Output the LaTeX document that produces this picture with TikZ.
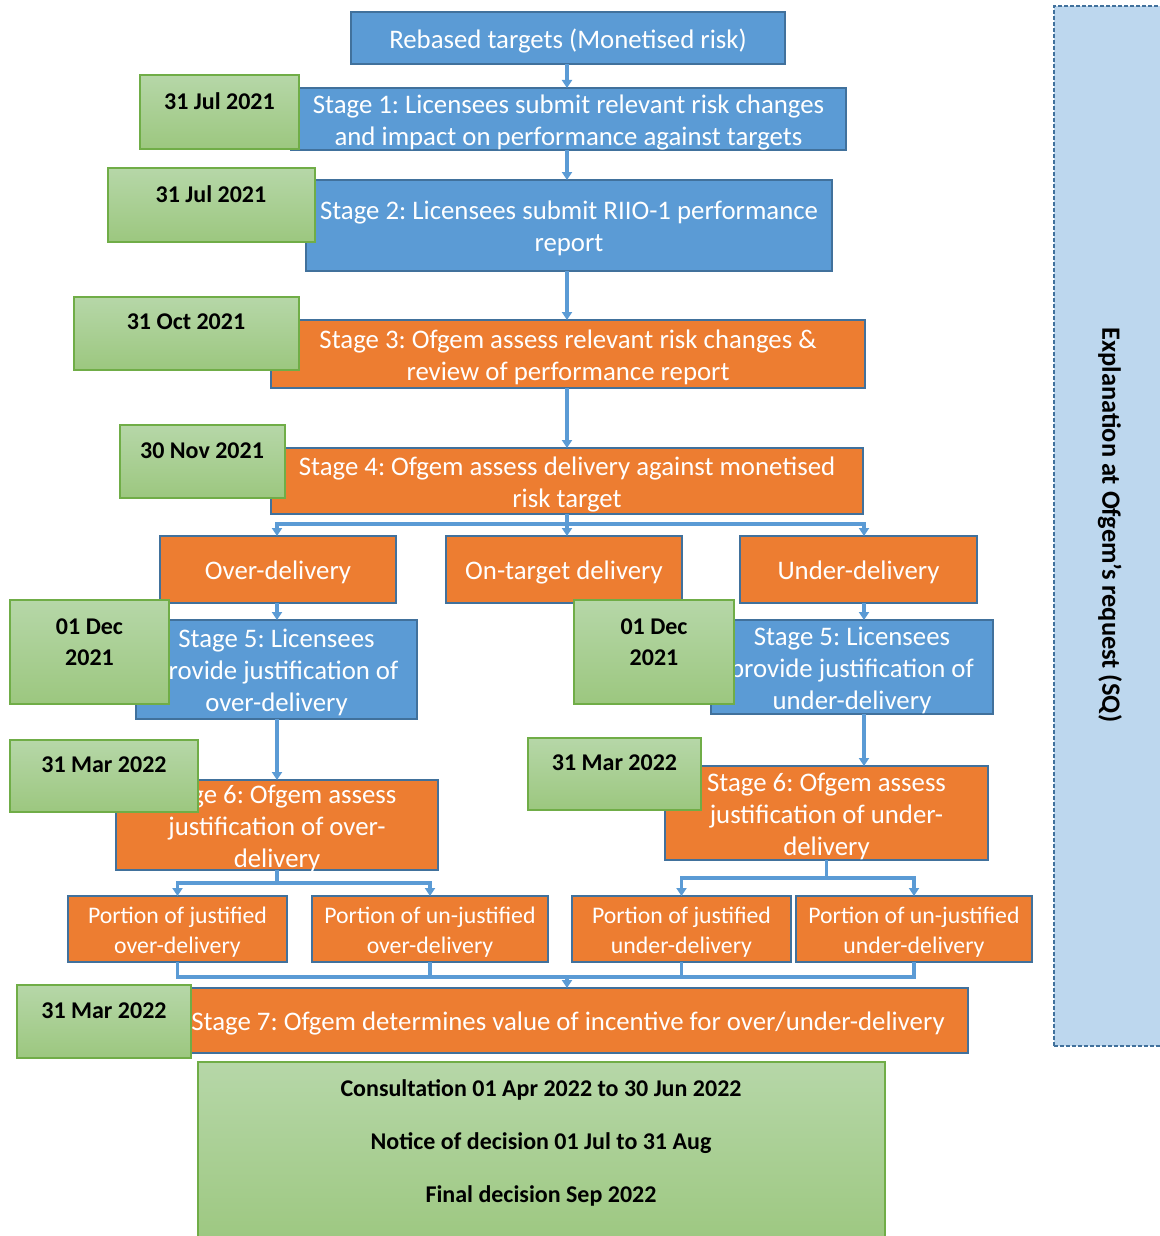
\documentclass[tikz,border=0pt]{standalone}
\usepackage{fontspec}
\setmainfont{Carlito}
\usetikzlibrary{arrows.meta}
\frenchspacing
\definecolor{bfill}{HTML}{5B9BD5}
\definecolor{bline}{HTML}{41719C}
\definecolor{ofill}{HTML}{ED7D31}
\definecolor{gtop}{HTML}{B6D7A8}
\definecolor{gbot}{HTML}{9CC77F}
\definecolor{gline}{HTML}{70AD47}
\definecolor{sidefill}{HTML}{BDD7EE}
\definecolor{conn}{HTML}{5B9BD5}
% box only
\newcommand{\bxo}[6]{\node[#6, minimum width={(#4-#2)*0.5pt}, minimum height={(#5-#3)*0.5pt}] (#1) at ({(#2+#4)/2},{(#3+#5)/2}) {};}
% box with its text (text node named <name>t)
\newcommand{\bx}[8]{\bxo{#1}{#2}{#3}{#4}{#5}{#6}\node[#7] (#1t) at ([yshift=-1.5pt]#1.center) {#8};}
\tikzset{
  base/.style={rectangle, inner sep=0pt, outer sep=0pt, line width=0.7pt},
  bluebox/.style={base, fill=bfill, draw=bline},
  orangebox/.style={base, fill=ofill, draw=bline},
  btxt/.style={inner sep=0pt, align=center, text=white, font=\fontsize{13.4}{16}\selectfont},
  ptxt/.style={inner sep=0pt, align=center, text=white, font=\fontsize{11.9}{15}\selectfont},
  datebox/.style={base, top color=gtop, bottom color=gbot, draw=gline},
  datetext/.style={inner sep=0pt, align=center, font=\bfseries\fontsize{12}{15.5}\selectfont, anchor=center},
  sidebox/.style={base, fill=sidefill, draw=bline, dash pattern=on 2pt off 1pt, line width=0.6pt},
  line/.style={draw=conn, line width=1.7pt},
  arr/.style={line, -{Triangle[width=5pt,length=4pt]}},
}
\begin{document}
\begin{tikzpicture}[x=0.5pt,y=-0.5pt]
\clip (0,0) rectangle (1160,1236);
\useasboundingbox (0,0) rectangle (1160,1236);
% side panel
\bxo{side}{1054}{6}{1180}{1046}{sidebox}
\node[rotate=-90, font=\bfseries\fontsize{13.2}{15}\selectfont] (sidet) at (1110,525) {Explanation at Ofgem’s request (SQ)};
% main stages
\bx{reb}{351}{12}{785}{64}{bluebox}{btxt}{Rebased targets (Monetised risk)}
\bx{s1}{291}{88}{846}{150}{bluebox}{btxt}{Stage 1: Licensees submit relevant risk changes\\and impact on performance against targets}
\bx{s2}{306}{180}{832}{271}{bluebox}{btxt}{Stage 2: Licensees submit RIIO-1 performance\\report}
\bx{s3}{271}{320}{865}{388}{orangebox}{btxt}{Stage 3: Ofgem assess relevant risk changes \&\\review of performance report}
\bx{s4}{271}{448}{863}{514}{orangebox}{btxt}{Stage 4: Ofgem assess delivery against monetised\\risk target}
\bx{over}{160}{536}{396}{603}{orangebox}{btxt}{Over-delivery}
\bx{ont}{446}{536}{682}{603}{orangebox}{btxt}{On-target delivery}
\bx{und}{740}{536}{977}{603}{orangebox}{btxt}{Under-delivery}
\bx{s5l}{136}{620}{417}{719}{bluebox}{btxt}{Stage 5: Licensees\\provide justification of\\over-delivery}
\bx{s5r}{711}{620}{993}{714}{bluebox}{btxt}{Stage 5: Licensees\\provide justification of\\under-delivery}
\bx{s6l}{116}{780}{438}{870}{orangebox}{btxt}{Stage 6: Ofgem assess\\justification of over-\\delivery}
\bx{s6r}{665}{766}{988}{860}{orangebox}{btxt}{Stage 6: Ofgem assess\\justification of under-\\delivery}
\bx{p1}{68}{896}{287}{962}{orangebox}{ptxt}{Portion of justified\\over-delivery}
\bx{p2}{312}{896}{548}{962}{orangebox}{ptxt}{Portion of un-justified\\over-delivery}
\bx{p3}{572}{896}{791}{962}{orangebox}{ptxt}{Portion of justified\\under-delivery}
\bx{p4}{796}{896}{1032}{962}{orangebox}{ptxt}{Portion of un-justified\\under-delivery}
\bx{s7}{190}{988}{968}{1053}{orangebox}{btxt}{\hspace*{-11pt}Stage 7: Ofgem determines value of incentive for over/under-delivery}
% final box
\bxo{fin}{198}{1062}{885}{1250}{datebox}
\node[datetext, font=\bfseries\fontsize{12}{26.5}\selectfont, anchor=north] (fint) at (541,1079) {Consultation 01 Apr 2022 to 30 Jun 2022\\Notice of decision 01 Jul to 31 Aug\\Final decision Sep 2022};
% date boxes
\bxo{d1}{140}{75}{299}{149}{datebox}
\node[datetext] (d1t) at (219.5,101) {31 Jul 2021};
\bxo{d2}{108}{168}{315}{242}{datebox}
\node[datetext] (d2t) at (211,194) {31 Jul 2021};
\bxo{d3}{74}{297}{299}{370}{datebox}
\node[datetext] (d3t) at (186,322) {31 Oct 2021};
\bxo{d4}{120}{425}{285}{498}{datebox}
\node[datetext] (d4t) at (202,451) {30 Nov 2021};
\bxo{d5l}{10}{600}{169}{704}{datebox}
\node[datetext, anchor=north] (d5lt) at (89.5,618) {01 Dec\\2021};
\bxo{d5r}{574}{600}{734}{704}{datebox}
\node[datetext, anchor=north] (d5rt) at (654,618) {01 Dec\\2021};
\bxo{d6l}{10}{740}{198}{812}{datebox}
\node[datetext] (d6lt) at (104,765) {31 Mar 2022};
\bxo{d6r}{528}{738}{701}{810}{datebox}
\node[datetext] (d6rt) at (614.5,763) {31 Mar 2022};
\bxo{d7}{17}{985}{191}{1058}{datebox}
\node[datetext] (d7t) at (104,1011) {31 Mar 2022};
% connectors
\coordinate (colC) at (567,0);
\coordinate (colL) at (277,0);
\coordinate (colR) at (864,0);
\draw[arr] (reb.south -| colC) -- (s1.north -| colC);
\draw[arr] (s1.south -| colC) -- (s2.north -| colC);
\draw[arr] (s2.south -| colC) -- (s3.north -| colC);
\draw[arr] (s3.south -| colC) -- (s4.north -| colC);
\coordinate (b4) at (567,524);
\draw[line] (s4.south -| colC) -- (b4);
\draw[arr] (b4) -| (over.north -| colL);
\draw[arr] (b4) -- (ont.north -| colC);
\draw[arr] (b4) -| (und.north -| colR);
\draw[arr] (over.south -| colL) -- (s5l.north -| colL);
\draw[arr] (und.south -| colR) -- (s5r.north -| colR);
\draw[arr] (s5l.south -| colL) -- (s6l.north -| colL);
\draw[arr] (s5r.south -| colR) -- (s6r.north -| colR);
\coordinate (b6l) at (277,883);
\draw[line] (s6l.south -| colL) -- (b6l);
\draw[arr] (b6l) -| (p1.north);
\draw[arr] (b6l) -| (p2.north);
\coordinate (b6r) at (826.5,878);
\draw[line] (s6r.south) -- (b6r);
\draw[arr] (b6r) -| (p3.north);
\draw[arr] (b6r) -| (p4.north);
\coordinate (m7) at (567,977);
\draw[line] (p1.south) |- (m7);
\draw[line] (p4.south) |- (m7);
\draw[line] (p2.south) -- (p2.south |- m7);
\draw[line] (p3.south) -- (p3.south |- m7);
\draw[arr] (m7) -- (s7.north -| colC);
\end{tikzpicture}
\end{document}
